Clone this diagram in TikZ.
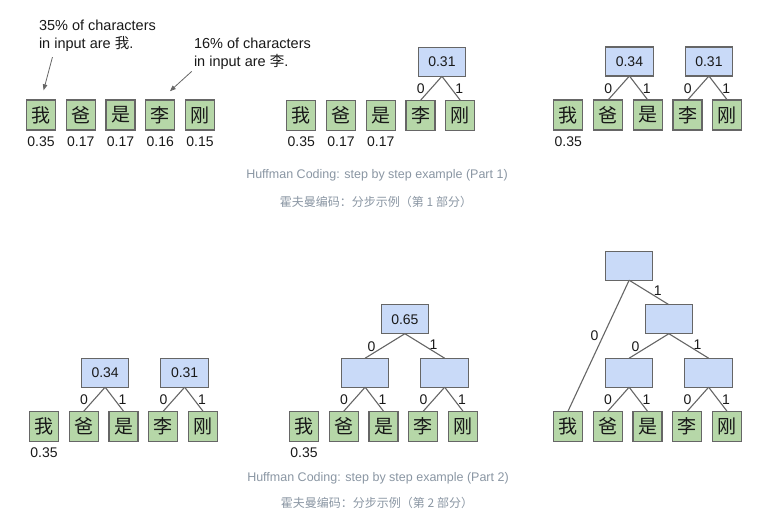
\documentclass[tikz,border=0pt]{standalone}
\usepackage{fontspec}
\setmainfont{Liberation Sans}
\newfontfamily\cjk{Noto Sans CJK SC}
\usetikzlibrary{arrows.meta,positioning,calc}
\definecolor{ink}{gray}{0.10}
\definecolor{frame}{HTML}{666666}
\definecolor{leafgreen}{HTML}{B6D7A8}
\definecolor{nodeblue}{HTML}{C9DAF8}
\definecolor{capgrey}{RGB}{138,150,163}

\begin{document}
\begin{tikzpicture}[x=1pt,y=-1pt,
  every node/.style={inner sep=0pt,outer sep=0pt,text=ink},
  leaf/.style={draw=frame,fill=leafgreen,line width=1.2pt,minimum width=29pt,
    minimum height=30pt,font=\cjk\fontsize{19}{19}\selectfont},
  merged/.style={draw=frame,fill=nodeblue,line width=1.2pt,minimum width=47.5pt,
    minimum height=29pt,font=\fontsize{14}{16}\selectfont},
  freq/.style={font=\fontsize{14}{16}\selectfont},
  note/.style={font=\fontsize{14.5}{18.3}\selectfont,align=left,anchor=north west},
  capen/.style={font=\fontsize{12.5}{14}\selectfont,text=capgrey},
  capzh/.style={font=\cjk\fontsize{12}{14}\selectfont,text=capgrey},
  link/.style={draw=frame,line width=1.1pt},
  bit/.style={font=\fontsize{14}{16}\selectfont},
  bitL/.style={bit,pos=0.53,left=6pt},
  bitR/.style={bit,pos=0.52,right=4pt},
  bitSL/.style={bit,pos=0.84,above=3pt},
  bitSR/.style={bit,pos=0.72,above=2pt},
  bitLong/.style={bit,pos=0.42,left=5pt},
  pointer/.style={draw=frame,line width=0.8pt,-{Triangle[length=6pt,width=4.5pt]}}]

\useasboundingbox (0,0) rectangle (760,517);

% ---- leaves, one row per step -------------------------------------------
\foreach \p/\x/\y in {a/41/115, b/301.3/115.3, c/568.3/115,
                      d/44/426.2, e/304/426.2, f/568/426.2} {
  \foreach \c [count=\i] in {我,爸,是,李,刚}
    \node[leaf] (\p\i) at (\x+39.75*\i-39.75,\y) {\c};
}

% ---- frequencies ---------------------------------------------------------
\foreach \n/\v in {a1/0.35, a2/0.17, a3/0.17, a4/0.16, a5/0.15,
                   b1/0.35, b2/0.17, b3/0.17, c1/0.35, d1/0.35, e1/0.35}
  \node[freq,below=6.5pt of \n] (\n-v) {\v};

% ---- merged nodes --------------------------------------------------------
\node[merged] (b6) at ($(b4)!.5!(b5)+(1.5,-53.5)$) {0.31};
\node[merged] (c6) at ($(c2)!.5!(c3)+(1.5,-53.5)$) {0.34};
\node[merged] (c7) at ($(c4)!.5!(c5)+(1.5,-53.5)$) {0.31};
\node[merged] (d6) at ($(d2)!.5!(d3)+(1.5,-53.5)$) {0.34};
\node[merged] (d7) at ($(d4)!.5!(d5)+(1.5,-53.5)$) {0.31};
\node[merged] (e6) at ($(e2)!.5!(e3)+(1.5,-53.5)$) {};
\node[merged] (e7) at ($(e4)!.5!(e5)+(1.5,-53.5)$) {};
\node[merged] (e8) at ($(e6)!.5!(e7)+(0,-53.5)$) {0.65};
\node[merged] (f6) at ($(f2)!.5!(f3)+(1.5,-53.5)$) {};
\node[merged] (f7) at ($(f4)!.5!(f5)+(1.5,-53.5)$) {};
\node[merged] (f8) at ($(f6)!.5!(f7)+(0,-53.5)$) {};
\node[merged] (f9) at ($(f6)+(0,-107)$) {};

% ---- links with their bits -----------------------------------------------
\foreach \u/\v/\s/\b in {b6/b4/L/0, b6/b5/R/1,
    c6/c2/L/0, c6/c3/R/1, c7/c4/L/0, c7/c5/R/1,
    d6/d2/L/0, d6/d3/R/1, d7/d4/L/0, d7/d5/R/1,
    e6/e2/L/0, e6/e3/R/1, e7/e4/L/0, e7/e5/R/1, e8/e6/SL/0, e8/e7/SR/1,
    f6/f2/L/0, f6/f3/R/1, f7/f4/L/0, f7/f5/R/1, f8/f6/SL/0, f8/f7/SR/1,
    f9/f1/Long/0, f9/f8/SR/1}
  \draw[link] (\u.south) -- node[bit\s] (\u\v) {\b} (\v.north);

% ---- notes ---------------------------------------------------------------
\node[note] (note1) at (39,19.5) {35\% of characters\\in input are {\cjk 我}.};
\node[note] (note2) at (194,37.5) {16\% of characters\\in input are {\cjk 李}.};
\draw[pointer,shorten <=6pt,shorten >=10pt] ([xshift=15pt]note1.south west) -- (a1.north);
\draw[pointer,shorten <=3pt,shorten >=13pt] (note2.south west) -- (a4.north);

% ---- captions ------------------------------------------------------------
\node[capen] (cap1) at (377,175) {Huffman Coding: step by step example (Part 1)};
\node[capzh] (cap1zh) at (376,201.7) {霍夫曼编码：分步示例（第 1 部分）};
\node[capen] (cap2) at (378,478.3) {Huffman Coding: step by step example (Part 2)};
\node[capzh] (cap2zh) at (377,503.3) {霍夫曼编码：分步示例（第 2 部分）};
\end{tikzpicture}
\end{document}
